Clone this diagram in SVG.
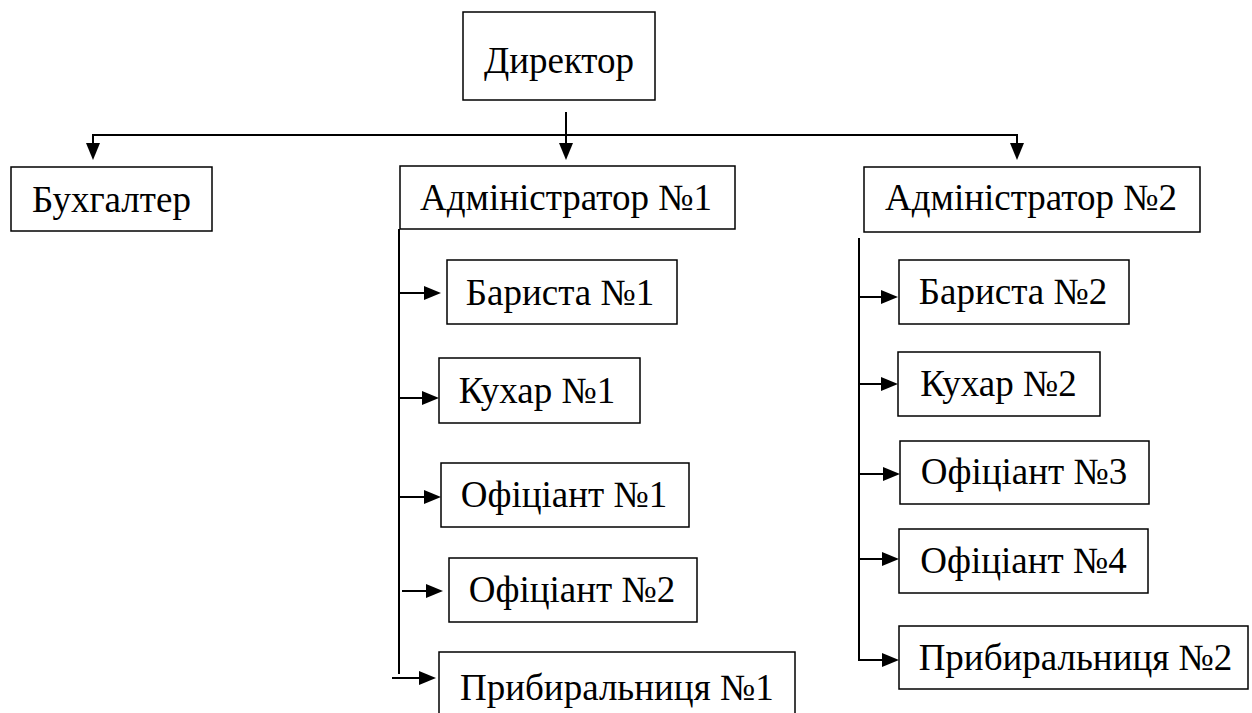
<svg xmlns="http://www.w3.org/2000/svg" width="1252" height="713" viewBox="0 0 1252 713">
<style>
.box{fill:#fff;stroke:#000;stroke-width:1.5}
.c{fill:none;stroke:#000;stroke-width:2}
.t{font-family:'Liberation Serif','Times New Roman',serif;font-size:37px;fill:#000}
</style>
<defs>
<path id="ar" d="M0,0 L-17,-7 L-17,7 Z" fill="#000"/>
</defs>
<rect width="1252" height="713" fill="#fff"/>
<g id="connectors">
<line class="c" x1="93" y1="135" x2="1017" y2="135"/>
<line class="c" x1="93" y1="134" x2="93" y2="150"/><use href="#ar" transform="translate(93,160) rotate(90)"/>
<line class="c" x1="566" y1="112" x2="566" y2="150"/><use href="#ar" transform="translate(566,160) rotate(90)"/>
<line class="c" x1="1017" y1="134" x2="1017" y2="150"/><use href="#ar" transform="translate(1017,160) rotate(90)"/>
<line class="c" x1="399" y1="229" x2="399" y2="674"/>
<line class="c" x1="399" y1="293" x2="430" y2="293"/><use href="#ar" transform="translate(441,293)"/>
<line class="c" x1="399" y1="398" x2="430" y2="398"/><use href="#ar" transform="translate(439,398)"/>
<line class="c" x1="399" y1="497" x2="430" y2="497"/><use href="#ar" transform="translate(441,497)"/>
<line class="c" x1="402" y1="591" x2="432" y2="591"/><use href="#ar" transform="translate(443,591)"/>
<line class="c" x1="392" y1="678" x2="425" y2="678"/><use href="#ar" transform="translate(436,678)"/>
<line class="c" x1="859" y1="238" x2="859" y2="660"/>
<line class="c" x1="858" y1="297" x2="888" y2="297"/><use href="#ar" transform="translate(898,297)"/>
<line class="c" x1="858" y1="384" x2="888" y2="384"/><use href="#ar" transform="translate(898,384)"/>
<line class="c" x1="859" y1="474" x2="890" y2="474"/><use href="#ar" transform="translate(900,474)"/>
<line class="c" x1="859" y1="559" x2="889" y2="559"/><use href="#ar" transform="translate(899,559)"/>
<line class="c" x1="858" y1="660" x2="889" y2="660"/><use href="#ar" transform="translate(899,660)"/>
</g>
<g id="director"><rect class="box" x="463" y="12" width="192" height="88"/><text class="t" x="559" y="73" text-anchor="middle">Директор</text></g>
<g id="accountant"><rect class="box" x="11" y="167" width="201" height="64"/><text class="t" x="111.5" y="212" text-anchor="middle">Бухгалтер</text></g>
<g id="admin1"><rect class="box" x="400" y="166" width="335" height="63"/><text class="t" x="566" y="210" text-anchor="middle">Адміністратор №1</text></g>
<g id="admin2"><rect class="box" x="864" y="167" width="336" height="65"/><text class="t" x="1031" y="210" text-anchor="middle">Адміністратор №2</text></g>
<g id="barista1"><rect class="box" x="447" y="260" width="230" height="64"/><text class="t" x="560" y="305" text-anchor="middle">Бариста №1</text></g>
<g id="cook1"><rect class="box" x="439" y="358" width="201" height="65"/><text class="t" x="537" y="403" text-anchor="middle">Кухар №1</text></g>
<g id="waiter1"><rect class="box" x="441" y="463" width="248" height="64"/><text class="t" x="564" y="507" text-anchor="middle">Офіціант №1</text></g>
<g id="waiter2"><rect class="box" x="449" y="558" width="248" height="64"/><text class="t" x="572" y="602" text-anchor="middle">Офіціант №2</text></g>
<g id="cleaner1"><rect class="box" x="439" y="652" width="356" height="70"/><text class="t" x="460" y="700">Прибиральниця №1</text></g>
<g id="barista2"><rect class="box" x="899" y="260" width="230" height="64"/><text class="t" x="1013" y="304" text-anchor="middle">Бариста №2</text></g>
<g id="cook2"><rect class="box" x="898" y="352" width="202" height="64"/><text class="t" x="998.5" y="396" text-anchor="middle">Кухар №2</text></g>
<g id="waiter3"><rect class="box" x="900" y="441" width="249" height="63"/><text class="t" x="1024" y="484" text-anchor="middle">Офіціант №3</text></g>
<g id="waiter4"><rect class="box" x="899" y="529" width="249" height="64"/><text class="t" x="1023.5" y="573" text-anchor="middle">Офіціант №4</text></g>
<g id="cleaner2"><rect class="box" x="899" y="626" width="349" height="63"/><text class="t" x="1075.5" y="670" text-anchor="middle">Прибиральниця №2</text></g>
</svg>
